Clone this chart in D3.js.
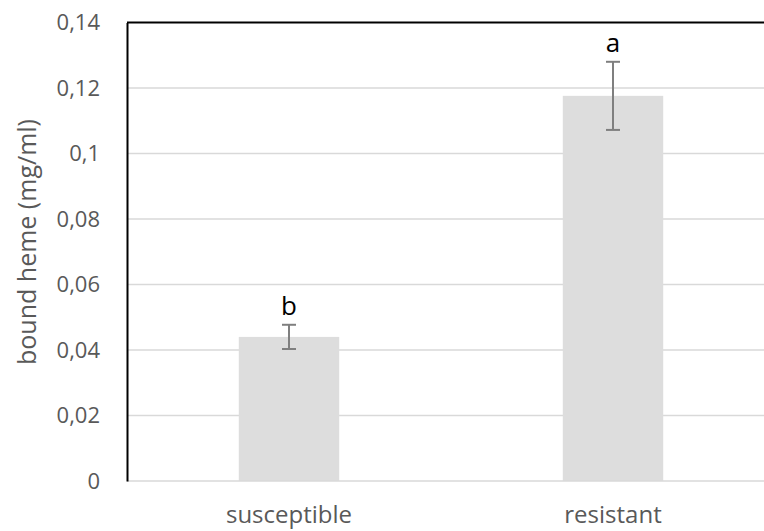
<!DOCTYPE html>
<html><head><meta charset="utf-8">
<script src="https://cdn.jsdelivr.net/npm/d3@7"></script>
<style>body{margin:0;background:#fff}svg{display:block}</style>
</head><body>
<svg id="chart" width="764" height="531"></svg>
<script>
const categories = ["susceptible", "resistant"];
const values = [0.044, 0.1176];
const errors = [0.0037, 0.0104];
const letters = ["b", "a"];
const yTicks = [0, 0.02, 0.04, 0.06, 0.08, 0.1, 0.12, 0.14];
const yTickLabels = ["0", "0,02", "0,04", "0,06", "0,08", "0,1", "0,12", "0,14"];

const svg = d3.select("#chart");
const pLeft = 127, pRight = 775, pTop = 22.5, pBottom = 481;
const font = "'Open Sans', 'Segoe UI', sans-serif";

const x = d3.scaleBand().domain(categories).range([pLeft, pRight]).paddingInner(0.69).paddingOuter(0.345);
const y = d3.scaleLinear().domain([0, 0.14]).range([pBottom, pTop]);

// gridlines
svg.append("g").selectAll("line").data(yTicks.slice(1, -1)).join("line")
  .attr("x1", pLeft).attr("x2", 764)
  .attr("y1", d => y(d)).attr("y2", d => y(d))
  .attr("stroke", "#d9d9d9").attr("stroke-width", 1.5);

// bars
svg.append("g").selectAll("rect").data(categories).join("rect")
  .attr("x", d => x(d)).attr("width", x.bandwidth())
  .attr("y", (d, i) => y(values[i])).attr("height", (d, i) => y(0) - y(values[i]))
  .attr("fill", "#dddddd");

// baseline (x axis)
const xAxis = d3.axisBottom(x).tickSize(0);
const gx = svg.append("g").attr("transform", `translate(0,${pBottom})`).call(xAxis);
gx.select(".domain").attr("d", `M${pLeft},0H764`).attr("stroke", "#d9d9d9").attr("stroke-width", 1.5);
gx.selectAll("text").attr("font-family", font).attr("font-size", 24).attr("fill", "#595959")
  .attr("dy", null).attr("y", 42);

// top border
svg.append("line").attr("x1", pLeft).attr("x2", 764).attr("y1", pTop).attr("y2", pTop)
  .attr("stroke", "#000").attr("stroke-width", 2);

// y axis
const yAxis = d3.axisLeft(y).tickValues(yTicks).tickFormat((d, i) => yTickLabels[i]).tickSize(0).tickPadding(27);
const gy = svg.append("g").attr("transform", `translate(${pLeft},0)`).call(yAxis);
gy.select(".domain").attr("stroke", "#000").attr("stroke-width", 2);
gy.selectAll("text").attr("font-family", font).attr("font-size", 22).attr("fill", "#595959");

// error bars
const eb = svg.append("g").attr("stroke", "#7f7f7f").attr("stroke-width", 2);
categories.forEach((c, i) => {
  const cx = x(c) + x.bandwidth() / 2;
  const hi = y(values[i] + errors[i]), lo = y(values[i] - errors[i]);
  eb.append("line").attr("x1", cx).attr("x2", cx).attr("y1", hi).attr("y2", lo);
  eb.append("line").attr("x1", cx - 7).attr("x2", cx + 7).attr("y1", hi).attr("y2", hi);
  eb.append("line").attr("x1", cx - 7).attr("x2", cx + 7).attr("y1", lo).attr("y2", lo);
  svg.append("text").attr("x", cx).attr("y", hi - 10).attr("text-anchor", "middle")
    .attr("font-family", font).attr("font-size", 26).attr("fill", "#000").text(letters[i]);
});

// y label
svg.append("text").attr("transform", `translate(36,242) rotate(-90)`)
  .attr("text-anchor", "middle").attr("font-family", font).attr("font-size", 25).attr("fill", "#595959")
  .text("bound heme (mg/ml)");
</script>
</body></html>
